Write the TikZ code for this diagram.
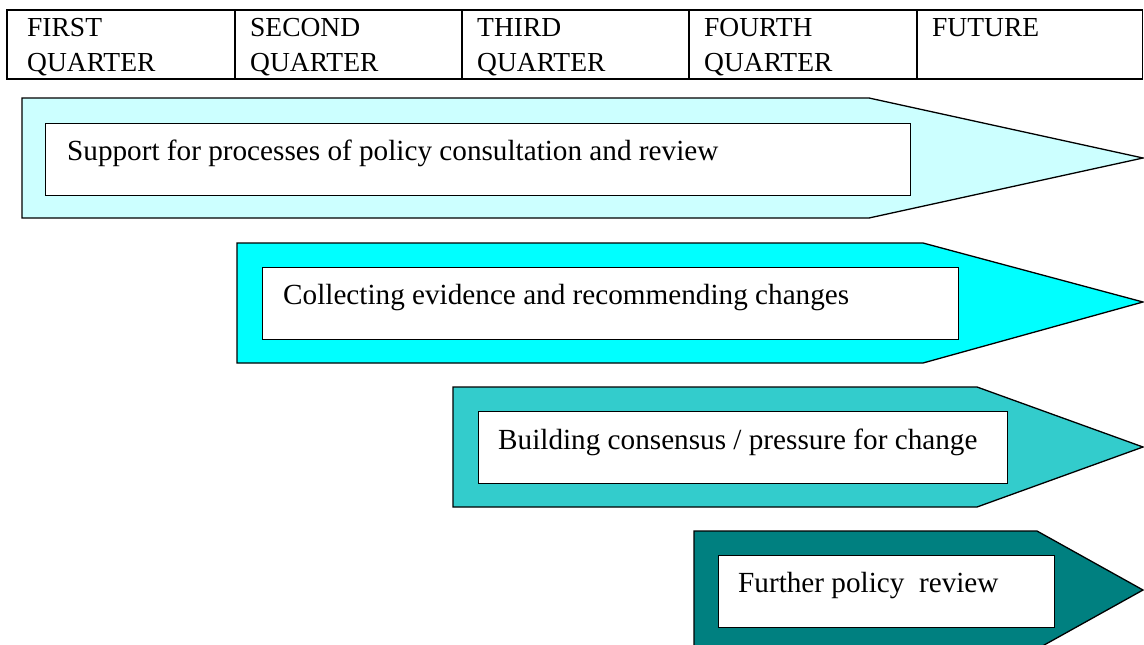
\documentclass[tikz,border=0pt]{standalone}
\usepackage{fontspec}
\setmainfont{Liberation Serif}
\definecolor{arrowA}{RGB}{204,255,255}
\definecolor{arrowB}{RGB}{0,255,255}
\definecolor{arrowC}{RGB}{51,204,204}
\definecolor{arrowD}{RGB}{0,128,128}
\tikzset{
  tblline/.style={line width=1.4pt},
  celltext/.style={anchor=north west, inner sep=0pt, align=left,
    font=\fontsize{27.5}{35}\selectfont},
  phase/.style={draw=black, line width=1.3pt, line join=miter},
  innerbox/.style={draw=black, line width=1.3pt, fill=white, anchor=north west,
    inner sep=0pt, minimum height=72pt},
  boxtext/.style={anchor=base west, inner sep=0pt,
    font=\fontsize{29.2}{34}\selectfont}
}
\begin{document}
\begin{tikzpicture}[x=1pt,y=-1pt]
\useasboundingbox (0,0) rectangle (1144,645);
\clip (0,0) rectangle (1144,645);
\fill[white] (0,0) rectangle (1144,645);

% table
\draw[tblline] (7,10) rectangle (1142.5,79);
\foreach \xx in {235,462,689,917} \draw[tblline] (\xx,10) -- (\xx,79);
\node[celltext] (q1) at (27,18.5) {FIRST\\QUARTER};
\node[celltext] (q2) at (250,18.5) {SECOND\\QUARTER};
\node[celltext] (q3) at (477,18.5) {THIRD\\QUARTER};
\node[celltext] (q4) at (704,18.5) {FOURTH\\QUARTER};
\node[celltext] (q5) at (932,18.5) {FUTURE};

% phase arrows
\draw[phase, fill=arrowA] (22,98) -- (869,98) -- (1143,158) -- (869,218) -- (22,218) -- cycle;
\node[innerbox, minimum width=865pt] (b1) at (45,123) {};
\node[boxtext] (t1) at (67,160) {Support for processes of policy consultation and review};

\draw[phase, fill=arrowB] (237,243) -- (923,243) -- (1143,302) -- (923,363) -- (237,363) -- cycle;
\node[innerbox, minimum width=696pt] (b2) at (262,267) {};
\node[boxtext] (t2) at (283,304) {Collecting evidence and recommending changes};

\draw[phase, fill=arrowC] (453,387) -- (977,387) -- (1143,447) -- (977,507) -- (453,507) -- cycle;
\node[innerbox, minimum width=529pt] (b3) at (478,411) {};
\node[boxtext] (t3) at (498,449) {Building consensus / pressure for change};

\draw[phase, fill=arrowD] (694,531) -- (1037,531) -- (1143,590) -- (1037,649) -- (694,649) -- cycle;
\node[innerbox, minimum width=336pt] (b4) at (718,555) {};
\node[boxtext] (t4) at (738,592) {Further policy\ \ review};
\end{tikzpicture}
\end{document}
